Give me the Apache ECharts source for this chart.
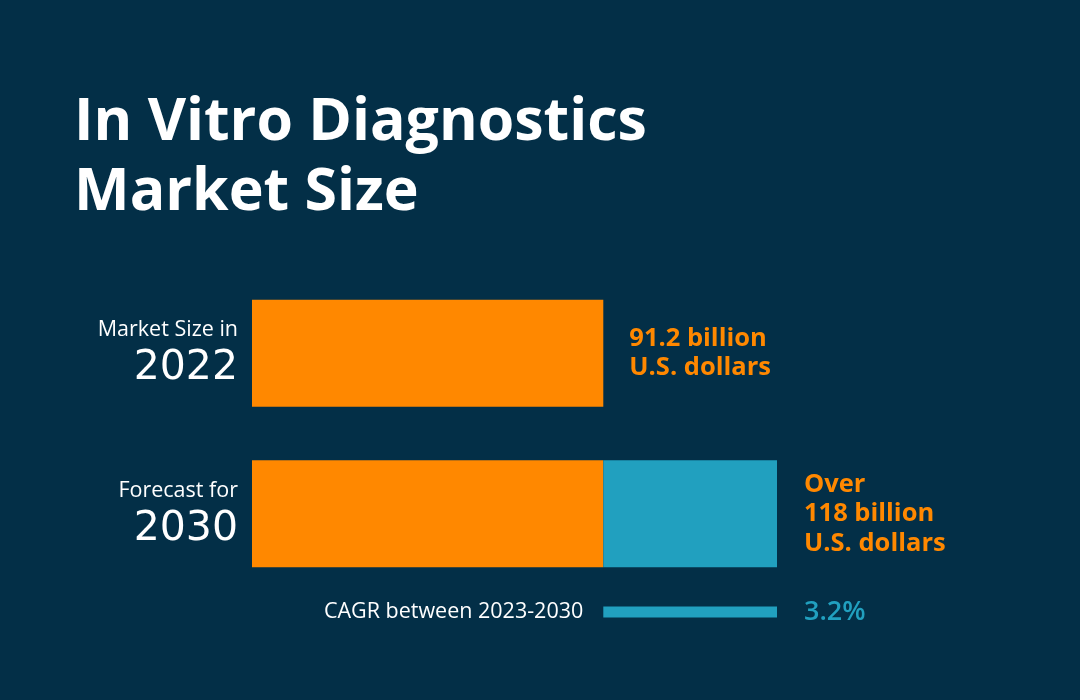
<!DOCTYPE html>
<html>
<head>
<meta charset="utf-8">
<style>
html,body{margin:0;padding:0;background:#032f47;}
#c{width:1080px;height:700px;}
</style>
<script src="https://cdn.jsdelivr.net/npm/echarts@6/dist/echarts.min.js"></script>
</head>
<body>
<div id="c"></div>
<script>
var titleText = "In Vitro Diagnostics\nMarket Size";
var categories = ["2022", "2030"];
var categoryCaptions = ["Market Size in", "Forecast for"];
var marketSize = [91.2, 118];           // billion U.S. dollars
var valueLabels = [["91.2 billion", "U.S. dollars"], ["Over", "118 billion", "U.S. dollars"]];
var cagrCaption = "CAGR between 2023-2030";
var cagrLabel = "3.2%";
var axisMin = 37, axisMax = 118;

var ORANGE = "#ff8800", TEAL = "#21a0bf", BG = "#032f47";
var FONT = "Open Sans";

var base2022 = marketSize[0];
var growth = marketSize[1] - marketSize[0];

var chart = echarts.init(document.getElementById('c'));
chart.setOption({
  backgroundColor: BG,
  animation: false,
  title: {
    text: titleText,
    left: 69, top: 83,
    textStyle: {color: "#ffffff", fontFamily: FONT, fontWeight: 'bold', fontSize: 59, lineHeight: 70}
  },
  grid: [
    {left: 252, width: 525, top: 273, height: 321},
    {left: 252, width: 525, top: 597, height: 30}
  ],
  xAxis: [
    {type: 'value', gridIndex: 0, min: axisMin, max: axisMax, show: false},
    {type: 'value', gridIndex: 1, min: axisMin, max: axisMax, show: false}
  ],
  yAxis: [
    {type: 'category', gridIndex: 0, data: categories, inverse: true,
     axisLine: {show: false}, axisTick: {show: false}, splitLine: {show: false},
     axisLabel: {
       margin: 14, align: 'right',
       formatter: function (v, i) { return '{a|' + categoryCaptions[i] + '}\n{b|' + v + '}'; },
       rich: {
         a: {color: '#ffffff', fontFamily: FONT, fontWeight: 500, fontSize: 21.5, lineHeight: 31, align: 'right'},
         b: {color: '#ffffff', fontFamily: 'DejaVu Sans', fontWeight: 'normal', fontSize: 41, lineHeight: 46, align: 'right'}
       }
     }},
    {type: 'category', gridIndex: 1, data: ['cagr'], show: false}
  ],
  series: [
    {
      type: 'bar', xAxisIndex: 0, yAxisIndex: 0, stack: 'm', barWidth: 107,
      itemStyle: {color: ORANGE},
      data: [
        {value: marketSize[0], label: {show: true, position: 'right', distance: 26,
          formatter: valueLabels[0].join('\n'),
          color: ORANGE, fontFamily: FONT, fontWeight: 'bold', fontSize: 25.5, lineHeight: 29.5}},
        {value: base2022, label: {show: false}}
      ]
    },
    {
      type: 'bar', xAxisIndex: 0, yAxisIndex: 0, stack: 'm', barWidth: 107,
      itemStyle: {color: TEAL},
      data: [
        {value: '-'},
        {value: growth, label: {show: true, position: 'right', distance: 27,
          formatter: valueLabels[1].join('\n'),
          color: ORANGE, fontFamily: FONT, fontWeight: 'bold', fontSize: 25.5, lineHeight: 29.5}}
      ]
    },
    {
      type: 'bar', xAxisIndex: 1, yAxisIndex: 1, stack: 'c', barWidth: 11,
      itemStyle: {color: 'rgba(0,0,0,0)'},
      label: {show: true, position: 'insideRight', distance: 20, formatter: cagrCaption,
        color: '#ffffff', fontFamily: FONT, fontWeight: 500, fontSize: 21.5},
      data: [base2022]
    },
    {
      type: 'bar', xAxisIndex: 1, yAxisIndex: 1, stack: 'c', barWidth: 11,
      itemStyle: {color: TEAL},
      label: {show: true, position: 'right', distance: 27, formatter: cagrLabel,
        color: TEAL, fontFamily: FONT, fontWeight: 600, fontSize: 27},
      data: [growth]
    }
  ]
});
</script>
</body>
</html>
